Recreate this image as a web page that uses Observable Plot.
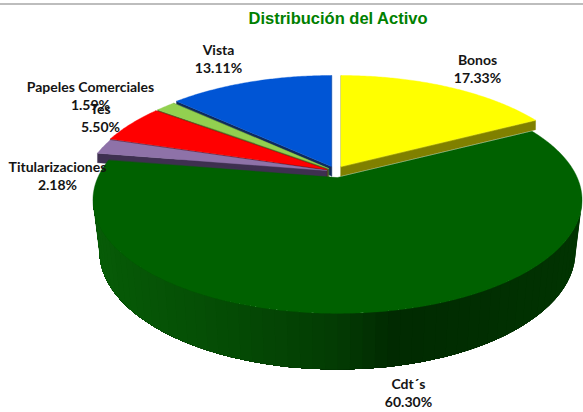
<!doctype html>
<html>
<head>
<meta charset="utf-8">
<script src="https://cdn.jsdelivr.net/npm/d3@7"></script>
<script src="https://cdn.jsdelivr.net/npm/@observablehq/plot@0.6"></script>
<style>html,body{margin:0;padding:0;background:#fff;overflow:hidden}svg{display:block}</style>
</head>
<body>
<div id="chart"></div>
<script>
// Data
const categories = ["Bonos", "Cdt´s", "Titularizaciones", "Tes", "Papeles Comerciales", "Vista"];
const shares = [17.33, 60.30, 2.18, 5.50, 1.59, 13.11];
const shareLabels = ["17.33%", "60.30%", "2.18%", "5.50%", "1.59%", "13.11%"];
const titleText = "Distribución del Activo";

// Styles
const topColors = ["#FFFF00", "#006100", "#8E72A8", "#FF0000", "#92D050", "#0055D5"];
const faceColors = ["#808000", "#003000", "#3E3050", "#800000", "#4A6A28", "#0F2A5C"];

// Layout: apex of every exploded slice and the perspective of the disc
const apexX = [340.5, 337, 326, 326, 328, 331];
const apexY = [166, 177, 170, 169, 168, 166];
const A = 239.7, B = 109, K = 0.198, faceDepth = 9.5;
const labelX = [477, 408, 57, 100, 90, 218];
const labelY = [60, 384, 167, 109, 87, 50];
const lineGap = 18.5;
const drawOrder = [5, 4, 3, 2, 0];

// Shading of the front wall of the large slice, left to right
const wallX = [95, 247, 347, 397, 480, 580];
const wallColor = ["#075C07", "#044A04", "#033A03", "#012A01", "#012E01", "#013401"];
const wallShade = d3.scaleLinear().domain(wallX).range(wallColor);
const topDisc = {cx: 337, cy: 199.5, rx: 244.5, ry: 113.5};
const bottomDisc = {cx: 337, cy: 251, rx: 238, ry: 118};

const arcs = d3.pie().sort(null).value(d => d)(shares);
const rim = (i, t) => {
  const u = Math.sin(t), v = -Math.cos(t), den = 1 - K * v;
  return [apexX[i] + A * u / den, apexY[i] + B * v / den];
};

const polys = [];
const walls = [];
const addPoly = (list, id, color, pts) => pts.forEach(p => list.push({id, color, x: p[0], y: p[1]}));

function wedge(i) {
  const pts = [[apexX[i], apexY[i]]];
  const {startAngle: a0, endAngle: a1} = arcs[i];
  const n = Math.max(3, Math.ceil((a1 - a0) / 0.01));
  for (let k = 0; k <= n; k++) pts.push(rim(i, a0 + (a1 - a0) * k / n));
  return pts;
}
function face(i, t) {
  const p = rim(i, t), a = [apexX[i], apexY[i]];
  return [a, p, [p[0], p[1] + faceDepth], [a[0], a[1] + faceDepth]];
}

for (const i of drawOrder) {
  addPoly(polys, `f0-${i}`, faceColors[i], face(i, arcs[i].startAngle));
  addPoly(polys, `f1-${i}`, faceColors[i], face(i, arcs[i].endAngle));
  addPoly(polys, `t-${i}`, topColors[i], wedge(i));
}

// Front wall of the large slice: overlapping shaded bands painted right to left
const bandCount = 60;
const on = (d, p) => [d.cx + d.rx * Math.cos(p), d.cy + d.ry * Math.sin(p)];
for (let k = 0; k < bandCount; k++) {
  const p0 = Math.PI * k / bandCount;
  const pts = [];
  for (let s = k; s <= bandCount; s++) pts.push(on(bottomDisc, Math.PI * s / bandCount));
  for (let s = bandCount; s >= k; s--) pts.push(on(topDisc, Math.PI * s / bandCount));
  addPoly(walls, `w-${k}`, wallShade(on(bottomDisc, p0)[0]), pts);
}
const greenTop = [];
addPoly(greenTop, "t-1", topColors[1], wedge(1));

const labels = categories.flatMap((c, i) => [
  {text: c, x: labelX[i], y: labelY[i]},
  {text: shareLabels[i], x: labelX[i], y: labelY[i] + lineGap}
]);

const shape = (rows, strokeWidth) => Plot.line(rows, {
  x: "x", y: "y", z: "id",
  fill: d => d.color,
  stroke: strokeWidth ? (d => d.color) : "none",
  strokeWidth,
  curve: "linear-closed"
});

const chart = Plot.plot({
  width: 583,
  height: 412,
  margin: 0,
  style: {background: "#fff"},
  x: {domain: [0, 583], range: [0, 583], axis: null},
  y: {domain: [0, 412], range: [0, 412], axis: null},
  marks: [
    Plot.ruleY([3.5], {stroke: "#BDBDBD", strokeWidth: 2}),
    shape(polys, 0.4),
    shape(walls, 0),
    shape(greenTop, 0.4),
    Plot.text([titleText], {
      x: () => 337.5, y: () => 18, text: d => d,
      fill: "#008000", fontSize: 16.5, fontWeight: 700,
      fontFamily: "Liberation Sans"
    }),
    Plot.text(labels, {
      x: "x", y: "y", text: "text",
      fill: "#141414", fontSize: 14, fontWeight: 700,
      fontFamily: "Lato"
    })
  ]
});
document.getElementById("chart").append(chart);
</script>
</body>
</html>
